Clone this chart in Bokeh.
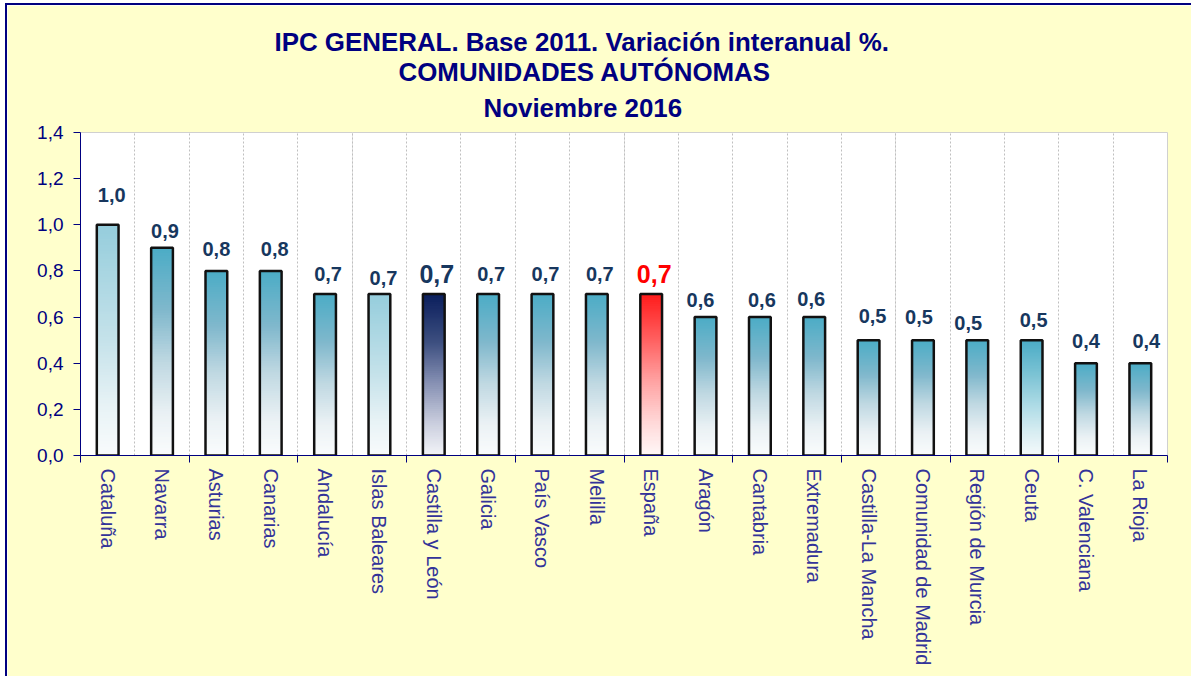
from bokeh.plotting import figure
from bokeh.models import (Range1d, LinearAxis, FixedTicker, Grid, CustomJSTickFormatter,
                          Title, ColumnDataSource)
from bokeh.embed import file_html
from bokeh.resources import INLINE
from bokeh.core.properties import value

# ---------------- data ----------------
regions = ["Cataluña", "Navarra", "Asturias", "Canarias", "Andalucía", "Islas Baleares",
           "Castilla y León", "Galicia", "País Vasco", "Melilla", "España", "Aragón",
           "Cantabria", "Extremadura", "Castilla-La Mancha", "Comunidad de Madrid",
           "Región de Murcia", "Ceuta", "C. Valenciana", "La Rioja"]
ipc_var = [1.0, 0.9, 0.8, 0.8, 0.7, 0.7, 0.7, 0.7, 0.7, 0.7, 0.7, 0.6,
           0.6, 0.6, 0.5, 0.5, 0.5, 0.5, 0.4, 0.4]
y_ticks = [0.0, 0.2, 0.4, 0.6, 0.8, 1.0, 1.2, 1.4]
title_lines = ["IPC GENERAL. Base 2011. Variación interanual %.",
               "COMUNIDADES AUTÓNOMAS",
               "Noviembre 2016"]

# ---------------- styles ----------------
FONT = "Liberation Sans"
NAVY = "#000080"
GRADIENTS = {
    "teal":  [(0.0, "#FAFCFD"), (0.2, "#EAF1F4"), (0.45, "#BFD8E2"), (0.7, "#80B8CC"), (1.0, "#4BACC6")],
    "light": [(0.0, "#F8FBFC"), (0.2, "#E9F3F6"), (0.5, "#C5E2EA"), (1.0, "#95CDDC")],
    "ceuta": [(0.0, "#F5FAFB"), (0.2, "#D8EDF2"), (0.45, "#ABDAE5"), (0.7, "#7CC3D4"), (1.0, "#4BACC6")],
    "navy":  [(0.0, "#F3F4F8"), (0.2, "#CACEDE"), (0.45, "#8690B3"), (0.7, "#3D4F80"), (1.0, "#0A1E5C")],
    "red":   [(0.0, "#FFF8F8"), (0.2, "#FFD9D9"), (0.45, "#FFA5A5"), (0.7, "#FF6565"), (1.0, "#FF1A1A")],
}
bar_style = {"Cataluña": "light", "Islas Baleares": "light", "Ceuta": "ceuta",
             "Castilla y León": "navy", "España": "red"}
label_style = {"Castilla y León": ("25px", "#17375E"), "España": ("25px", "#FF0000")}
# individual label nudges in pixels (dx, dy), default (3, -20)
label_nudge = {"Cataluña": (4, -30), "Navarra": (3, -17), "Asturias": (0, -22),
               "Canarias": (4, -22), "Islas Baleares": (4, -16), "Aragón": (-5, -17),
               "Cantabria": (2, -17), "Extremadura": (-3, -18), "Castilla-La Mancha": (4, -24),
               "Comunidad de Madrid": (-4, -23), "Región de Murcia": (-9, -17),
               "Ceuta": (2, -20), "C. Valenciana": (0, -22), "La Rioja": (6, -22)}
# title layout: (left offset from frame, standoff, vertical align) per line
title_layout = [(194, 0, "bottom"), (318, 0, "bottom"), (403, 17, "top")]


def hex2rgb(h):
    return tuple(int(h[i:i + 2], 16) for i in (1, 3, 5))


def grad_color(stops, t):
    for (t0, c0), (t1, c1) in zip(stops[:-1], stops[1:]):
        if t <= t1:
            f = (t - t0) / (t1 - t0)
            a, b = hex2rgb(c0), hex2rgb(c1)
            return "#%02X%02X%02X" % tuple(round(a[j] + (b[j] - a[j]) * f) for j in range(3))
    return stops[-1][1]


n = len(regions)
xpos = [i + 0.5 for i in range(n)]          # category centres on the numeric x scale

# ---------------- figure ----------------
W, H = 1186, 673
p = figure(x_range=Range1d(0, n), y_range=Range1d(0, 1.4), title=None,
           width=W, height=H, output_backend="svg", toolbar_location=None,
           x_axis_location=None, min_border_left=73, min_border_top=127,
           min_border_right=26, min_border_bottom=223)
p.styles = {"margin-left": "5px", "margin-top": "3px",
            "border-left": "2px solid #000080", "border-top": "2px solid #000080"}
p.border_fill_color = "#FFFFCC"
p.background_fill_color = "white"
p.outline_line_color = "#D0D0D0"
p.ygrid.grid_line_color = None

# title: three lines, added from the one nearest the plot outwards
for line, (off, so, va) in reversed(list(zip(title_lines, title_layout))):
    p.add_layout(Title(text=line, align="left", offset=off, standoff=so, vertical_align=va,
                       text_font=FONT, text_font_style="bold", text_font_size="25.9px",
                       text_color=NAVY), "above")

# vertical dotted grid at category boundaries
grid = Grid(dimension=0, ticker=FixedTicker(ticks=list(range(n + 1))),
            grid_line_color="#BFBFBF", grid_line_dash="2 2", grid_line_width=1)
p.add_layout(grid)

# gradient bars (stacked overlapping slices)
N = 80
xs, bots, tops, cols = [], [], [], []
for x, r, v in zip(xpos, regions, ipc_var):
    stops = GRADIENTS[bar_style.get(r, "teal")]
    for k in range(N):
        xs.append(x)
        bots.append(v * k / N)
        tops.append(v)
        cols.append(grad_color(stops, (k + 0.5) / N))
p.vbar(x=xs, bottom=bots, top=tops, width=0.4, fill_color=cols, line_color=None)
p.vbar(x=xpos, top=ipc_var, width=0.4, fill_color=None, line_color="#111111", line_width=2.5)

# value labels
src = ColumnDataSource(dict(
    x=xpos, y=ipc_var,
    t=[f"{v:.1f}".replace(".", ",") for v in ipc_var],
    fs=[label_style.get(r, ("20px", "#17375E"))[0] for r in regions],
    tc=[label_style.get(r, ("20px", "#17375E"))[1] for r in regions],
    dx=[label_nudge.get(r, (3, -20))[0] for r in regions],
    dy=[label_nudge.get(r, (3, -20))[1] for r in regions],
))
p.text(x="x", y="y", text="t", source=src, text_align="center", text_baseline="alphabetic",
       y_offset="dy", x_offset="dx", text_font=value(FONT), text_font_style="bold",
       text_font_size="fs", text_color="tc")

# y axis
ya = p.yaxis[0]
ya.ticker = FixedTicker(ticks=y_ticks)
ya.formatter = CustomJSTickFormatter(code="return tick.toFixed(1).replace('.', ',');")
ya.axis_line_color = NAVY
ya.major_tick_line_color = NAVY
ya.major_tick_out = 7
ya.major_tick_in = 0
ya.minor_tick_line_color = None
ya.major_label_standoff = 10
ya.major_label_text_font = FONT
ya.major_label_text_font_size = "19px"
ya.major_label_text_color = NAVY

# x axis: boundary ticks every two categories (no labels)
tick_axis = LinearAxis(ticker=FixedTicker(ticks=list(range(0, n + 1, 2))),
                       formatter=CustomJSTickFormatter(code="return '';"),
                       major_label_standoff=0,
                       major_tick_out=7, major_tick_in=0, minor_tick_line_color=None,
                       axis_line_color=NAVY, major_tick_line_color=NAVY)
p.add_layout(tick_axis, "below")

# x axis: category names at centres
cat_axis = LinearAxis(ticker=FixedTicker(ticks=xpos),
                      formatter=CustomJSTickFormatter(args=dict(names=regions),
                                                      code="return names[Math.floor(tick)];"),
                      major_label_orientation="vertical", axis_line_color=None,
                      major_tick_line_color=None, minor_tick_line_color=None,
                      major_tick_out=0, major_tick_in=0,
                      major_label_standoff=6, major_label_text_font=FONT,
                      major_label_text_font_size="20px", major_label_text_color="#333399")
p.add_layout(cat_axis, "below")

open("out.html", "w").write(file_html(p, INLINE))
